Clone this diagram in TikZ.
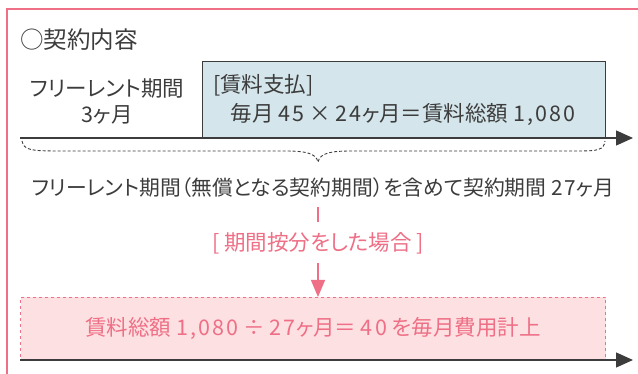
\documentclass[tikz,border=0pt]{standalone}
\usepackage{fontspec}
\setmainfont{Noto Sans CJK JP}[RawFeature=+palt]
\usetikzlibrary{arrows.meta,positioning}
\definecolor{inkgray}{HTML}{3C3C3C}
\definecolor{rosecol}{HTML}{EE6F86}
\definecolor{rosefill}{HTML}{FDE0E1}
\definecolor{payfill}{HTML}{D4E5EB}
\newcommand\wnum[1]{{\addfontfeatures{LetterSpace=10}#1}}
\tikzset{
	label/.style = {text=inkgray, font=\fontsize{21.5}{26}\selectfont, inner sep=2pt},
	rosetext/.style = {text=rosecol, font=\fontsize{21.5}{26}\selectfont, inner sep=2pt},
	paybox/.style = {draw=inkgray, line width=1.3pt, fill=payfill, anchor=south west,
		minimum width=403pt, minimum height=76pt},
	resultbox/.style = {draw=rosecol, dashed, line width=1pt, fill=rosefill, anchor=north west,
		minimum width=585pt, minimum height=63pt, text=rosecol, font=\fontsize{21.5}{26}\selectfont},
	timeaxis/.style = {draw=inkgray, line width=1.3pt, -{Triangle[length=17pt,width=15pt]}},
	rosearrow/.style = {draw=rosecol, line width=1.3pt, -{Triangle[length=17pt,width=14pt]}}
}
\begin{document}
\begin{tikzpicture}[x=1pt,y=-1pt]
\useasboundingbox (0,0) rectangle (638,374);
\draw[rosecol, line width=1.5pt] (638,9) -- (7,9) -- (7,374);
\node [label, anchor=west, font=\fontsize{23.5}{28}\selectfont] (title) at (18,40) {○契約内容};
% upper axis
\node [paybox] (pay) at (202,138) {};
\node [label, anchor=west] (payhead) at (211,85) {[賃料支払]};
\node [label] (payline) at (403,115) {毎月 \wnum{45} × \wnum{24}ヶ月＝賃料総額 \wnum{1,080}};
\node [label, align=center] (free) at (107,101) {フリーレント期間\\\wnum{3}ヶ月};
\coordinate (a0) at (20,138);
\coordinate (a1) at (633,138);
\draw [timeaxis] (a0) -- (a1);
\draw [inkgray, dash pattern=on 3pt off 2pt, line width=0.9pt] (22,141) .. controls (24,150) and (30,151) .. (60,151)
	-- (285,151) .. controls (305,151) and (316,153) .. (318,162)
	.. controls (320,153) and (331,151) .. (351,151) -- (578,151)
	.. controls (598,151) and (604,150) .. (605,141);
\node [label, font=\fontsize{20.8}{25}\selectfont] (sum) at (323,188) {フリーレント期間（無償となる契約期間）を含めて契約期間 \wnum{27}ヶ月};
\node [rosetext] (prorate) at (318,243) {[ 期間按分をした場合 ]};
% lower axis
\node [resultbox] (result) at (20,297) {賃料総額 \wnum{1,080} ÷ \wnum{27}ヶ月＝ \wnum{40} を毎月費用計上};
\coordinate (b0) at (20,360);
\coordinate (b1) at (633,360);
\draw [timeaxis] (b0) -- (b1);
\draw [draw=rosecol, line width=1.3pt, shorten <=7pt, shorten >=8pt] (sum.south -| prorate) -- (prorate);
\draw [rosearrow, shorten <=7pt] (prorate) -- (result.north -| prorate);
\end{tikzpicture}
\end{document}
